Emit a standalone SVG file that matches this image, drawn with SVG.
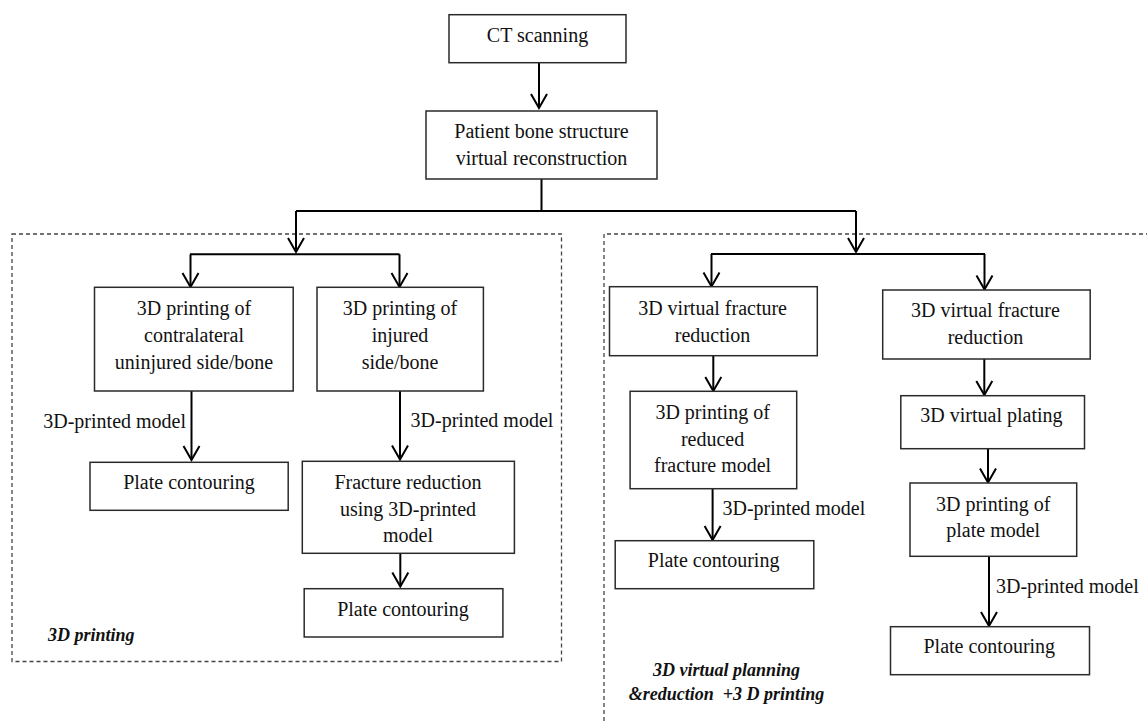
<svg xmlns="http://www.w3.org/2000/svg" width="1147" height="722" viewBox="0 0 1147 722">
<defs>
<style>
.box{fill:#fff;stroke:#2a2a2a;stroke-width:1.5}
text{font-family:'Liberation Serif','Times New Roman','DejaVu Serif',Times,serif;fill:#111}
.t{font-size:20px;text-anchor:middle}
.lbl{font-size:20px}
.grp{font-size:18px;font-weight:bold;font-style:italic;white-space:pre}
.dash{fill:none;stroke:#444;stroke-width:1.3;stroke-dasharray:4,3}
.c{fill:none;stroke:#000;stroke-width:2}
.a{fill:none;stroke:#000;stroke-width:2;marker-end:url(#arr)}
</style>
<marker id="arr" markerWidth="20" markerHeight="20" refX="14" refY="8" orient="auto" markerUnits="userSpaceOnUse" overflow="visible">
<path d="M0,0 L14,8 L0,16" fill="none" stroke="#000" stroke-width="2"/>
</marker>
</defs>
<rect width="1147" height="722" fill="#fff"/>

<g id="groups">
<rect class="dash" x="12" y="234" width="549.5" height="427.5"/>
<path class="dash" d="M1150,234 H604 V725"/>
<text class="grp" x="48" y="641">3D printing</text>
<text class="grp" x="726.5" y="676" text-anchor="middle">3D virtual planning</text>
<text class="grp" x="726.5" y="700" text-anchor="middle" xml:space="preserve">&amp;reduction  +3 D printing</text>
</g>

<g id="connectors">
<line class="a" x1="539" y1="62.7" x2="539" y2="108"/>
<polyline class="c" points="541.5,179 541.5,211 296,211"/>
<line class="c" x1="541.5" y1="211" x2="856" y2="211"/>
<line class="a" x1="296" y1="211" x2="296" y2="252"/>
<line class="a" x1="856" y1="211" x2="856" y2="252"/>
<line class="c" x1="190" y1="254.3" x2="399.5" y2="254.3"/>
<line class="a" x1="190.5" y1="254.3" x2="190.5" y2="287"/>
<line class="a" x1="399.5" y1="254.3" x2="399.5" y2="287"/>
<line class="a" x1="191.5" y1="391" x2="191.5" y2="460"/>
<line class="a" x1="400" y1="391" x2="400" y2="459.5"/>
<line class="a" x1="400.3" y1="553.3" x2="400.3" y2="586.5"/>
<line class="c" x1="711" y1="254" x2="985" y2="254"/>
<line class="a" x1="711.5" y1="254" x2="711.5" y2="286.5"/>
<line class="a" x1="984.5" y1="254" x2="984.5" y2="289.5"/>
<line class="a" x1="713.3" y1="355.7" x2="713.3" y2="391"/>
<line class="a" x1="712.6" y1="488.7" x2="712.6" y2="540"/>
<line class="a" x1="984.3" y1="359" x2="984.3" y2="395"/>
<line class="a" x1="988" y1="448.7" x2="988" y2="482.5"/>
<line class="a" x1="989" y1="556.3" x2="989" y2="626"/>
<text class="lbl" x="186" y="428" text-anchor="end">3D-printed model</text>
<text class="lbl" x="410.6" y="427">3D-printed model</text>
<text class="lbl" x="722.5" y="515">3D-printed model</text>
<text class="lbl" x="996" y="593">3D-printed model</text>
</g>

<g id="ct">
<rect class="box" x="449" y="14.7" width="177" height="48"/>
<text class="t" x="537.5" y="42">CT scanning</text>
</g>
<g id="recon">
<rect class="box" x="426" y="111" width="231" height="68"/>
<text class="t" x="541.5" y="138">Patient bone structure</text>
<text class="t" x="541.5" y="165">virtual reconstruction</text>
</g>

<g id="print-contra">
<rect class="box" x="94.5" y="287.3" width="198.7" height="103.7"/>
<text class="t" x="194" y="315">3D printing of</text>
<text class="t" x="194" y="342">contralateral</text>
<text class="t" x="194" y="369">uninjured side/bone</text>
</g>
<g id="print-injured">
<rect class="box" x="317" y="287.3" width="166.4" height="103.7"/>
<text class="t" x="400" y="315">3D printing of</text>
<text class="t" x="400" y="342">injured</text>
<text class="t" x="400" y="369">side/bone</text>
</g>
<g id="plate-left-1">
<rect class="box" x="90" y="462.3" width="198.2" height="48"/>
<text class="t" x="189" y="489">Plate contouring</text>
</g>
<g id="fracture-reduction">
<rect class="box" x="302.3" y="461.3" width="212.1" height="92"/>
<text class="t" x="408" y="489">Fracture reduction</text>
<text class="t" x="408" y="516">using 3D-printed</text>
<text class="t" x="408" y="542">model</text>
</g>
<g id="plate-left-2">
<rect class="box" x="304.2" y="588.7" width="198.7" height="48.3"/>
<text class="t" x="403" y="616">Plate contouring</text>
</g>

<g id="virtual-reduction-a">
<rect class="box" x="609.5" y="286.7" width="207.8" height="69"/>
<text class="t" x="712.6" y="315">3D virtual fracture</text>
<text class="t" x="712.6" y="342">reduction</text>
</g>
<g id="print-reduced">
<rect class="box" x="630.1" y="391.3" width="166.6" height="97.4"/>
<text class="t" x="712.6" y="419">3D printing of</text>
<text class="t" x="712.6" y="446">reduced</text>
<text class="t" x="712.6" y="472">fracture model</text>
</g>
<g id="plate-right-1">
<rect class="box" x="615.2" y="540.7" width="198.6" height="48"/>
<text class="t" x="713.6" y="567">Plate contouring</text>
</g>

<g id="virtual-reduction-b">
<rect class="box" x="882.7" y="290" width="207.5" height="69"/>
<text class="t" x="985.4" y="317">3D virtual fracture</text>
<text class="t" x="985.4" y="344">reduction</text>
</g>
<g id="virtual-plating">
<rect class="box" x="900.8" y="395.7" width="183.7" height="53"/>
<text class="t" x="991.4" y="422">3D virtual plating</text>
</g>
<g id="print-plate">
<rect class="box" x="910" y="483" width="166.7" height="73.3"/>
<text class="t" x="993.2" y="511">3D printing of</text>
<text class="t" x="993.2" y="537">plate model</text>
</g>
<g id="plate-right-2">
<rect class="box" x="890.5" y="626.7" width="199" height="48"/>
<text class="t" x="989.3" y="653">Plate contouring</text>
</g>
</svg>
